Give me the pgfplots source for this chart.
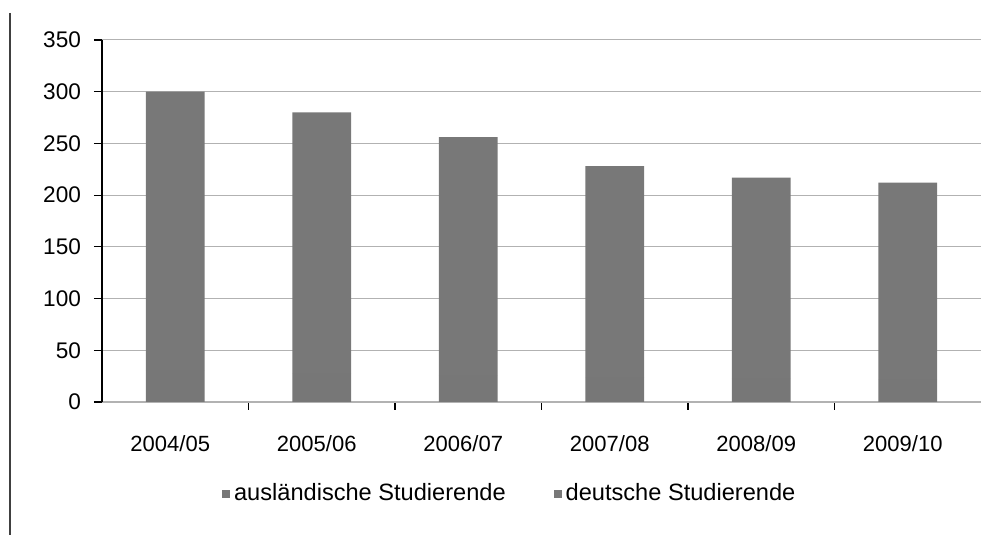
\documentclass[border=0pt]{standalone}
\usepackage{fontspec}
\setmainfont{Liberation Sans}
\usepackage{pgfplots}
\pgfplotsset{compat=1.18}
\definecolor{barA}{HTML}{777777}
\definecolor{barB}{HTML}{787878}
\begin{document}
\begin{tikzpicture}
\path[use as bounding box] (0,0) rectangle (496.5pt,267.5pt);
\draw[black!75, line width=0.6pt] (5pt,261pt) -- (5pt,0pt);
\begin{axis}[
  at={(51pt,66.5pt)}, anchor=south west,
  scale only axis, width=439.5pt, height=181pt,
  ybar stacked, bar width=0.4,
  xmin=-0.5, xmax=5.5, ymin=0, ymax=350,
  ytick={0,50,...,350},
  xtick={0.5,1.5,2.5,3.5,4.5}, xticklabels={},
  extra x ticks={0,1,2,3,4,5},
  extra x tick labels={2004/05,2005/06,2006/07,2007/08,2008/09,2009/10},
  extra x tick style={major tick length=0pt, grid=none},
  tick align=outside, major tick length=4pt,
  tick style={black, line width=0.6pt},
  ymajorgrids, grid style={gray!60, line width=0.5pt},
  axis x line*=bottom, axis y line*=left,
  x axis line style={gray!60, -},
  y axis line style={black, line width=0.8pt, -},
  font=\fontsize{10}{12}\selectfont,
  xticklabel style={font=\fontsize{11}{13}\selectfont, yshift=-13pt, xshift=-2.5pt},
  yticklabel style={font=\fontsize{11.3}{13}\selectfont, xshift=-3pt},
  /pgf/number format/assume math mode=true,
  legend style={at={(0.465,-0.254)}, anchor=center, draw=none, fill=none,
    legend columns=2, font=\fontsize{11.8}{14}\selectfont,
    /tikz/every even column/.append style={column sep=22pt}},
  legend image code/.code={\fill[#1] (0pt,-2pt) rectangle (4pt,2pt);},
]
\addplot[fill=barA, draw=none] coordinates {(0,30) (1,28) (2,26) (3,24) (4,23) (5,22)};
\addplot[fill=barB, draw=none] coordinates {(0,270) (1,252) (2,230) (3,204) (4,194) (5,190)};
\legend{ausländische Studierende, deutsche Studierende}
\end{axis}
\end{tikzpicture}
\end{document}
